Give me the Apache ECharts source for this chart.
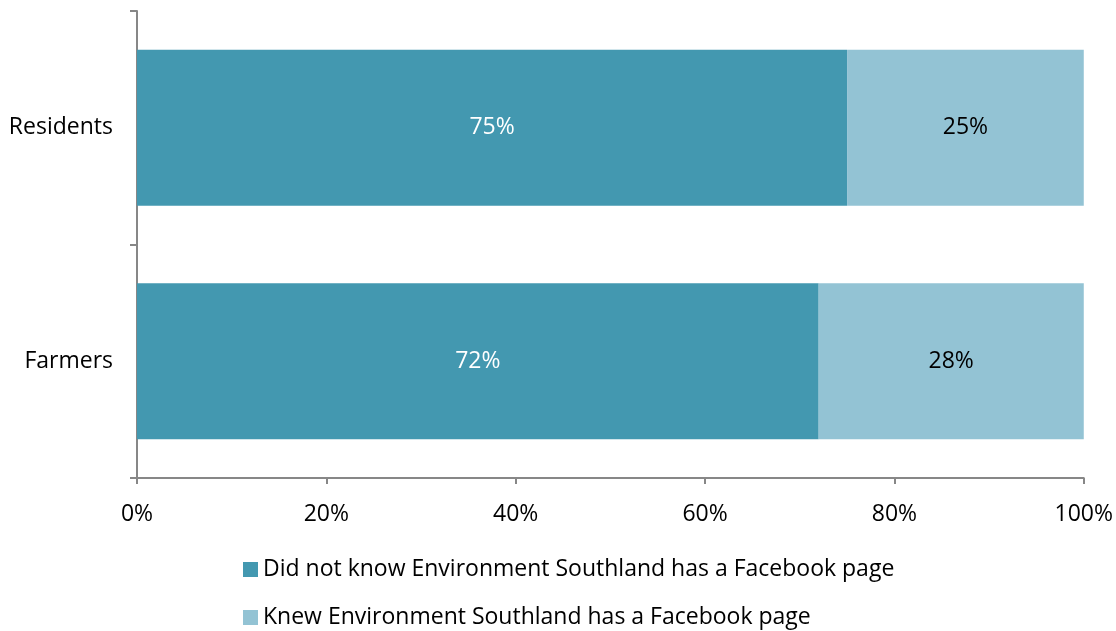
<!DOCTYPE html>
<html>
<head>
<meta charset="utf-8">
<script src="https://cdn.jsdelivr.net/npm/echarts@6/dist/echarts.min.js"></script>
<style>
  html, body { margin: 0; padding: 0; background: #fff; }
  #chart { width: 1116px; height: 631px; }
</style>
</head>
<body>
<div id="chart"></div>
<script>
// Awareness of the Environment Southland Facebook page, by group
const categories = ['Farmers', 'Residents'];
const didNotKnow = [72, 75];
const knew = [28, 25];
const seriesNames = [
  'Did not know Environment Southland has a Facebook page',
  'Knew Environment Southland has a Facebook page'
];
const xTicks = [0, 20, 40, 60, 80, 100];

const FONT = '"Open Sans", "Liberation Sans", sans-serif';
const FONT_SIZE = 23;
const AXIS_GREY = '#878787';

// One legend row per series, stacked under the plot
const legendRow = (name, top) => ({
  orient: 'horizontal',
  left: 238,
  top: top,
  itemWidth: 15,
  itemHeight: 15,
  icon: 'rect',
  textStyle: { color: '#000', fontSize: FONT_SIZE, fontFamily: FONT },
  data: [name]
});

const chart = echarts.init(document.getElementById('chart'), null, { renderer: 'canvas' });
chart.setOption({
  animation: false,
  textStyle: { fontFamily: FONT },
  grid: { left: 137, right: 32, top: 11, bottom: 153, containLabel: false },
  xAxis: {
    type: 'value',
    min: xTicks[0],
    max: xTicks[xTicks.length - 1],
    interval: 20,
    axisLine: { show: true, lineStyle: { color: AXIS_GREY, width: 2 } },
    axisTick: { show: true, length: 6, lineStyle: { color: AXIS_GREY, width: 2 } },
    splitLine: { show: false },
    axisLabel: {
      formatter: '{value}%',
      color: '#000',
      fontSize: FONT_SIZE,
      fontFamily: FONT,
      margin: 25
    }
  },
  yAxis: {
    type: 'category',
    data: categories,
    axisLine: { show: true, lineStyle: { color: AXIS_GREY, width: 2 } },
    axisTick: { show: true, length: 7, lineStyle: { color: AXIS_GREY, width: 2 } },
    axisLabel: { color: '#000', fontSize: FONT_SIZE, fontFamily: FONT, margin: 24 }
  },
  legend: [legendRow(seriesNames[0], 553), legendRow(seriesNames[1], 601)],
  series: [
    {
      name: seriesNames[0],
      type: 'bar',
      stack: 'total',
      data: didNotKnow,
      barWidth: 156,
      itemStyle: { color: '#4398B0' },
      label: {
        show: true,
        position: 'inside',
        formatter: '{c}%',
        color: '#fff',
        fontSize: FONT_SIZE,
        fontFamily: FONT
      }
    },
    {
      name: seriesNames[1],
      type: 'bar',
      stack: 'total',
      data: knew,
      barWidth: 156,
      itemStyle: { color: '#93C3D4' },
      label: {
        show: true,
        position: 'inside',
        formatter: '{c}%',
        color: '#000',
        fontSize: FONT_SIZE,
        fontFamily: FONT
      }
    }
  ]
});
</script>
</body>
</html>
